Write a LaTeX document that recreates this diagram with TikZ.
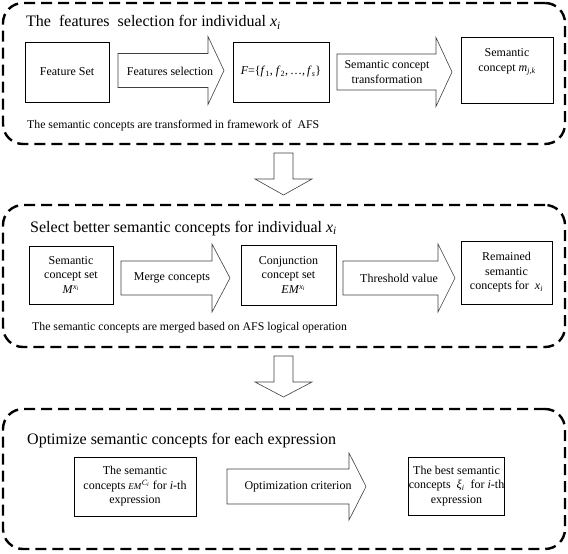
\documentclass[tikz,border=0pt]{standalone}
\usepackage{fontspec}
\setmainfont{Liberation Serif}
\newcommand\ivar[2]{\textit{#1}\textsubscript{\textit{#2}}}
\newcommand\hblockarrow[6]{% tail x, head start x, tip x, centre y, half body, half head
  \draw[barrow] (#1,{#4-#5}) -- (#2,{#4-#5}) -- (#2,{#4-#6}) -- (#3,#4) -- (#2,{#4+#6}) -- (#2,{#4+#5}) -- (#1,{#4+#5}) -- cycle;}
\newcommand\vblockarrow[3]{% top y, shoulder y, tip y
  \draw[barrow] (274,#1) -- (293,#1) -- (293,#2) -- (312,#2) -- (283.5,#3) -- (255,#2) -- (274,#2) -- cycle;}
\begin{document}
\begin{tikzpicture}[x=1pt,y=-1pt,
  panel/.style={draw, line width=2.4pt, dash pattern=on 11pt off 6pt, rounded corners=20pt, inner sep=0pt},
  box/.style={draw, line width=0.7pt, inner sep=0pt, align=center, font=\fontsize{12}{14.5}\selectfont},
  barrow/.style={draw=black!75, line width=0.6pt, fill=white},
  lbl/.style={align=center, inner sep=0pt, font=\fontsize{12}{14.5}\selectfont},
  ttl/.style={anchor=base west, inner sep=0pt, font=\fontsize{16}{19}\selectfont},
  note/.style={anchor=base west, inner sep=0pt, font=\fontsize{11.8}{14}\selectfont}]
\useasboundingbox (0,0) rectangle (568,554);

% panels
\node[panel, minimum width=562pt, minimum height=141pt] (p1) at (284,73.5) {};
\node[panel, minimum width=562pt, minimum height=142pt] (p2) at (284,276) {};
\node[panel, minimum width=562pt, minimum height=140pt] (p3) at (284,479) {};

% titles
\node[ttl] (t1) at (26,27) {The\ \ features\ \ selection for individual \ivar{x}{i}};
\node[ttl] (t2) at (30,232) {Select better semantic concepts for individual \ivar{x}{i}};
\node[ttl] (t3) at (27,444) {Optimize semantic concepts for each expression};

% row 1
\node[box, minimum width=84pt, minimum height=60pt] (a1) at (67,72) {Feature Set};
\hblockarrow{118}{208}{224}{70.5}{17}{34}
\node[lbl] (l1) at (170,71) {Features selection};
\node[box, minimum width=96pt, minimum height=60pt] (a2) at (281,72) {\textit{F}=\{\textit{f}\textsubscript{1}, \textit{f}\textsubscript{2},\,\dots,\,\ivar{f}{s}\}};
\hblockarrow{337}{436}{452}{72}{18}{34.5}
\node[lbl] (l2) at (387,72) {Semantic concept\\transformation};
\node[box, minimum width=92pt, minimum height=66pt] (a3) at (507,70) {};
\node[lbl] (a3t) at (507,62) {Semantic\\concept \textit{m}\textsubscript{\textit{j},\textit{k}}};
\node[note] (n1) at (27,128) {The semantic concepts are transformed in framework of\ \ AFS};

% down arrow 1
\vblockarrow{153}{179}{195}

% row 2
\node[box, minimum width=84pt, minimum height=58pt] (b1) at (71,275) {Semantic\\concept set\\\textit{M}\textsuperscript{\ivar{x}{i}}};
\hblockarrow{121}{212}{230}{278}{17}{34}
\node[lbl] (l3) at (172,278) {Merge concepts};
\node[box, minimum width=95pt, minimum height=60pt] (b2) at (288.5,275) {Conjunction\\concept set\\\hspace*{10pt}\textit{EM}\textsuperscript{\ivar{x}{i}}};
\hblockarrow{343}{438}{455}{278}{17}{34}
\node[lbl] (l4) at (399,278) {Threshold value};
\node[box, minimum width=91pt, minimum height=63pt] (b3) at (506.5,272.5) {Remained\\semantic\\concepts for\ \ \ivar{x}{i}};
\node[note] (n2) at (32,330) {The semantic concepts are merged based on AFS logical operation};

% down arrow 2
\vblockarrow{356}{382}{397}

% row 3
\node[box, minimum width=122pt, minimum height=59pt] (d1) at (135,486.5) {The semantic\\concepts {\small\textit{EM}}\textsuperscript{\ivar{C}{i}} for \textit{i}-th\\expression};
\hblockarrow{227}{349}{366}{486.5}{17.5}{33.5}
\node[lbl] (l5) at (298,487) {Optimization criterion};
\node[box, minimum width=95pt, minimum height=58pt] (d2) at (456.5,486) {The best semantic\\concepts\ \ \ivar{ξ}{i}\ \ for \textit{i}-th\\expression};
\end{tikzpicture}
\end{document}
